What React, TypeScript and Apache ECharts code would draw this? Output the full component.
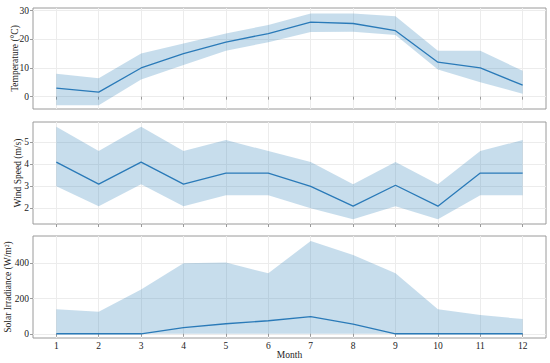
import React, { useEffect, useRef } from "react";
import * as echarts from "echarts";

const months = [1, 2, 3, 4, 5, 6, 7, 8, 9, 10, 11, 12];

const tempMean = [3, 1.6, 10, 15, 19, 22, 26, 25.5, 23, 12, 10, 4];
const tempLow = [-3, -3, 6, 11, 16, 19, 22.5, 22.6, 21.5, 9.5, 5, 1];
const tempHigh = [8, 6.4, 15, 18.5, 22, 25, 29, 29, 28, 16, 16, 9];

const windMean = [4.1, 3.1, 4.1, 3.1, 3.6, 3.6, 3.0, 2.1, 3.05, 2.1, 3.6, 3.6];
const windLow = [3.0, 2.1, 3.1, 2.1, 2.6, 2.6, 2.0, 1.5, 2.1, 1.5, 2.6, 2.6];
const windHigh = [5.7, 4.6, 5.7, 4.6, 5.1, 4.6, 4.1, 3.1, 4.1, 3.1, 4.6, 5.1];

const solarMean = [0, 0, 0, 35, 57, 74, 97, 55, 0, 0, 0, 0];
const solarLow = [0, 0, 0, 0, 0, 0, 0, 0, 0, 0, 0, 0];
const solarHigh = [139, 125, 252, 400, 405, 343, 527, 447, 343, 139, 106, 84];

const xTicks = months;
const tempTicks = [0, 10, 20, 30];
const windTicks = [2, 3, 4, 5];
const solarTicks = [0, 200, 400];

const panelNames = ["Temperature (°C)", "Wind Speed (m/s)", "Solar Irradiance (W/m²)"];

const FONT = "'Liberation Serif', 'Times New Roman', serif";
const LINE = "#2a7ab8";
const FILL = "rgba(31,119,180,0.25)";
const BORDER = "#9a9a9a";
const GRIDLINE = "#ececec";
const FS = 9.5;

export default function App() {
  const ref = useRef<HTMLDivElement>(null);
  useEffect(() => {
    if (!ref.current) return;
    const chart = echarts.init(ref.current, undefined, { renderer: "svg" });
    const grids = [
      { left: 33, right: 4, top: 8, height: 101 },
      { left: 33, right: 4, top: 122, height: 102 },
      { left: 33, right: 4, top: 236, height: 102 },
    ].map((g) => ({
      ...g,
      show: true,
      borderColor: BORDER,
      borderWidth: 1,
      containLabel: false,
      outerBoundsMode: "none",
    }));

    const yRanges = [
      { min: -4.3, max: 30.9, ticks: tempTicks, gap: 12.8 },
      { min: 1.29, max: 5.92, ticks: windTicks, gap: 9.8 },
      { min: -24, max: 555, ticks: solarTicks, gap: 19.8 },
    ];

    const xAxes = [0, 1, 2].map((i) => ({
      type: "value",
      gridIndex: i,
      min: 0.45,
      max: 12.55,
      axisLine: { show: false },
      axisTick: { show: true, customValues: xTicks, length: 3, lineStyle: { color: BORDER } },
      axisLabel: {
        show: i === 2,
        customValues: xTicks,
        fontFamily: FONT,
        fontSize: FS,
        color: "#222",
        margin: 3,
      },
      splitLine: { show: true, lineStyle: { color: GRIDLINE, width: 1 } },
      name: i === 2 ? "Month" : "",
      nameLocation: "middle",
      nameGap: 12.3,
      nameMoveOverlap: false,
      nameTextStyle: { fontFamily: FONT, fontSize: FS, color: "#222" },
    }));

    const yAxes = yRanges.map((r, i) => ({
      type: "value",
      gridIndex: i,
      min: r.min,
      max: r.max,
      axisLine: { show: false },
      axisTick: { show: true, customValues: r.ticks, length: 3, lineStyle: { color: BORDER } },
      axisLabel: {
        customValues: r.ticks,
        fontFamily: FONT,
        fontSize: FS,
        color: "#222",
        margin: 4,
      },
      splitLine: { show: true, lineStyle: { color: GRIDLINE, width: 1 } },
      name: panelNames[i],
      nameLocation: "middle",
      nameGap: r.gap,
      nameMoveOverlap: false,
      nameTextStyle: { fontFamily: FONT, fontSize: FS, color: "#222" },
    }));

    const data = [
      { mean: tempMean, low: tempLow, high: tempHigh },
      { mean: windMean, low: windLow, high: windHigh },
      { mean: solarMean, low: solarLow, high: solarHigh },
    ];

    const series: any[] = [];
    data.forEach((d, i) => {
      series.push({
        type: "custom",
        xAxisIndex: i,
        yAxisIndex: i,
        data: months.map((m, k) => [m, d.low[k], d.high[k]]),
        encode: { x: 0, y: [1, 2] },
        silent: true,
        z: 2,
        renderItem: (params: any, api: any) => {
          if (params.dataIndex !== 0) return null;
          const pts: number[][] = [];
          for (let k = 0; k < months.length; k++) pts.push(api.coord([months[k], d.high[k]]));
          for (let k = months.length - 1; k >= 0; k--) pts.push(api.coord([months[k], d.low[k]]));
          return {
            type: "polygon",
            shape: { points: pts },
            style: { fill: FILL, stroke: "none" },
          };
        },
      });
      series.push({
        type: "line",
        xAxisIndex: i,
        yAxisIndex: i,
        data: months.map((m, k) => [m, d.mean[k]]),
        lineStyle: { color: LINE, width: 1.3 },
        symbol: "none",
        z: 5,
      });
    });

    chart.setOption({
      animation: false,
      backgroundColor: "#fff",
      grid: grids,
      xAxis: xAxes,
      yAxis: yAxes,
      series,
    });
    return () => chart.dispose();
  }, []);
  return <div ref={ref} style={{ width: 550, height: 363, position: "absolute", left: 0, top: 0 }} />;
}
